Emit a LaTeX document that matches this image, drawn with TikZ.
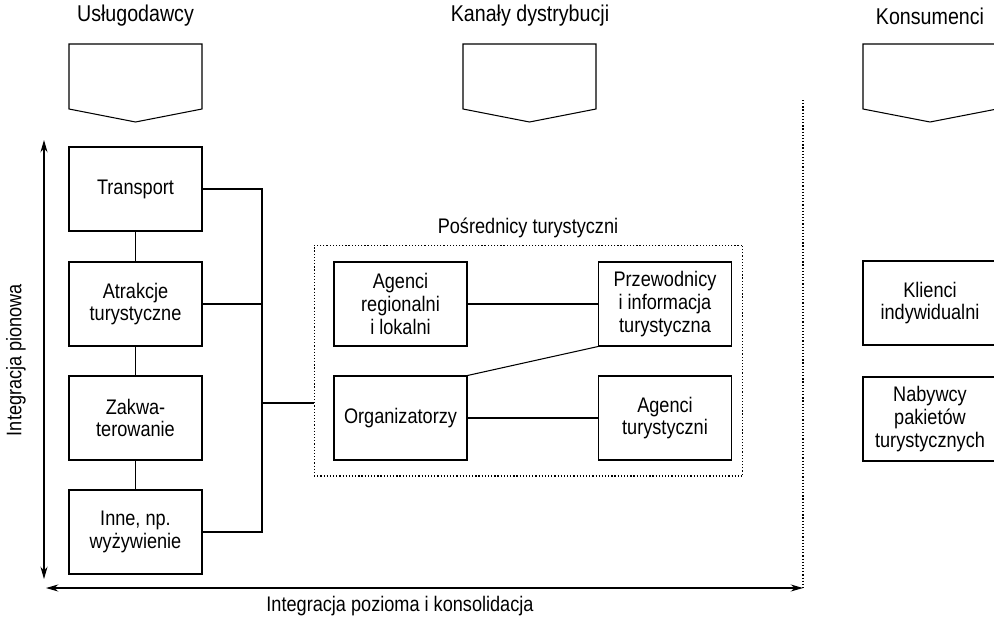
\documentclass[tikz,border=0pt]{standalone}
\usepackage{fontspec}
\setmainfont{Liberation Sans}[FakeStretch=0.86]
\usetikzlibrary{arrows.meta}

\begin{document}
\begin{tikzpicture}[x=0.02cm,y=-0.02cm,
  font=\fontsize{12}{13}\selectfont,
  box/.style={draw=black, line width=0.6pt, rectangle, align=center, inner sep=2pt,
              minimum width=2.66cm, minimum height=1.68cm},
  colhead/.style={font=\fontsize{13}{14}\selectfont},
  head/.style={draw=black, line width=0.6pt},
  link/.style={draw=black, line width=0.6pt},
  dots/.style={line width=0.6pt, dash pattern=on 0.7pt off 1.1pt},
  integr/.style={line width=0.6pt, {Stealth[length=7pt,width=4pt]}-{Stealth[length=7pt,width=4pt]}}]
\useasboundingbox (0,0) rectangle (994,619);
\clip (0,0) rectangle (994,619);
% column headings
\node[colhead] (uslugi) at (135.5,16) {Usługodawcy};
\node[colhead] (kanaly) at (530,16) {Kanały dystrybucji};
\node[colhead] (konsum) at (930,16) {Konsumenci};
\draw[head] (69,44) -- (202,44) -- (202,109) -- (135.5,122) -- (69,109) -- cycle;
\draw[head] (463,44) -- (596,44) -- (596,109) -- (529.5,122) -- (463,109) -- cycle;
\draw[head] (863,44) -- (997,44) -- (997,109) -- (930,122) -- (863,109) -- cycle;
% uslugodawcy
\node[box] (transport) at (135.5,189) {Transport};
\node[box] (atrakcje) at (135.5,304) {Atrakcje\\turystyczne};
\node[box] (zakwat) at (135.5,418) {Zakwa-\\terowanie};
\node[box] (inne) at (135.5,532) {Inne, np.\\wyżywienie};
\draw[link] (transport) -- (atrakcje);
\draw[link] (atrakcje) -- (zakwat);
\draw[link] (zakwat) -- (inne);
% posrednicy
\node[draw=black, dots, minimum width=8.58cm, minimum height=4.62cm] (posr) at (528.5,360.5) {};
\node (posrlab) at (528,228) {Pośrednicy turystyczni};
\node[box] (agreg) at (400.5,304) {Agenci\\regionalni\\i lokalni};
\node[box] (przew) at (665,304) {Przewodnicy\\i informacja\\turystyczna};
\node[box] (organ) at (400.5,418) {Organizatorzy};
\node[box] (agtur) at (665,418) {Agenci\\turystyczni};
\draw[link] (agreg) -- (przew);
\draw[link] (organ.north east) -- (przew.south west);
\draw[link] (organ) -- (agtur);
% szyna
\coordinate (bus) at (262,403);
\draw[link] (transport.east) -| (bus) |- (inne.east);
\draw[link] (atrakcje.east) -- (atrakcje.east -| bus);
\draw[link] (bus) -- (bus -| posr.west);
% konsumenci
\node[box, minimum width=2.68cm] (klienci) at (930,303) {Klienci\\indywidualni};
\node[box, minimum width=2.68cm] (nabywcy) at (930,419) {Nabywcy\\pakietów\\turystycznych};
% integracja
\coordinate (vtop) at (44,140);
\coordinate (vbot) at (44,579);
\coordinate (hleft) at (46,588);
\coordinate (hright) at (803,588);
\draw[integr] (vtop) -- (vbot);
\draw[integr] (hleft) -- (hright);
\draw[dots] (803,100) -- (hright);
\node[rotate=90] (pion) at (16,360) {Integracja pionowa};
\node (poziom) at (400,606) {Integracja pozioma i konsolidacja};
\end{tikzpicture}
\end{document}
